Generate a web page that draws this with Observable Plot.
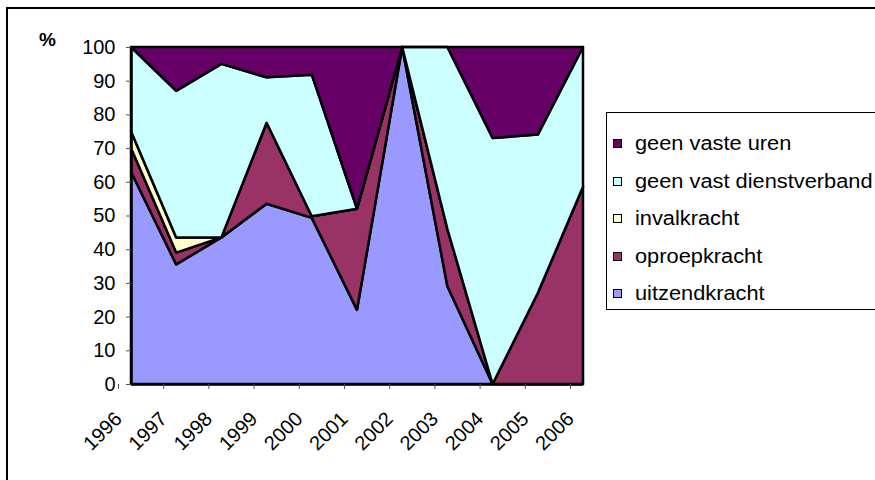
<!DOCTYPE html>
<html><head><meta charset="utf-8">
<script src="https://cdn.jsdelivr.net/npm/d3@7"></script>
<script src="https://cdn.jsdelivr.net/npm/@observablehq/plot@0.6"></script>
<style>
body{margin:0;background:#fff;}
#wrap{position:relative;width:875px;height:480px;overflow:hidden;font-family:Arial,"Liberation Sans",sans-serif;background:#fff;}
#frame{position:absolute;left:6px;top:7px;width:900px;height:520px;border:2px solid #000;box-sizing:border-box;}
#chart{position:absolute;left:0;top:0;}
#pct{position:absolute;left:39px;top:30px;font-weight:bold;font-size:19px;line-height:20px;}
#legend{position:absolute;left:606px;top:112px;width:300px;height:198px;border:1px solid #000;box-sizing:border-box;background:#fff;}
.item{position:absolute;left:6px;height:24px;display:flex;align-items:center;white-space:nowrap;}
.sw{width:7px;height:7px;border:1px solid #000;margin-right:13px;flex:none;}
.lab{font-size:20px;display:inline-block;transform:scaleX(1.09);transform-origin:left center;}
</style></head>
<body>
<div id="wrap">
  <div id="frame"></div>
  <div id="chart"></div>
  <div id="pct">%</div>
  <div id="legend"></div>
</div>
<script>
const years = [1996, 1997, 1998, 1999, 2000, 2001, 2002, 2003, 2004, 2005, 2006];
const uitzendkracht = [63, 35.5, 43.5, 53.5, 49.3, 22, 100, 29, 0, 0, 0];
const oproepkracht = [7, 3.5, 0, 24, 0.5, 30, 0, 17, 0, 27, 58.5];
const invalkracht = [5, 4.5, 0, 0, 0, 0, 0, 0, 0, 0, 0];
const geenVastDienstverband = [25, 43.5, 51.5, 13.5, 42, 0, 0, 54, 73, 47, 41.5];
const geenVasteUren = [0, 13, 5, 9, 8.2, 48, 0, 0, 27, 26, 0];
const seriesNames = ["uitzendkracht", "oproepkracht", "invalkracht", "geen vast dienstverband", "geen vaste uren"];
const seriesColors = ["#9999FF", "#993366", "#FFFFCC", "#CCFFFF", "#660066"];
const yTicks = [0, 10, 20, 30, 40, 50, 60, 70, 80, 90, 100];

const seriesValues = [uitzendkracht, oproepkracht, invalkracht, geenVastDienstverband, geenVasteUren];
const table = [];
seriesNames.forEach((name, s) => years.forEach((yr, i) => table.push({year: yr, series: name, value: seriesValues[s][i]})));

const chart = Plot.plot({
  width: 600, height: 480,
  marginLeft: 131, marginRight: 17, marginTop: 47, marginBottom: 96,
  x: {type: "linear", domain: [1996, 2006]},
  y: {domain: [0, 100]},
  color: {domain: seriesNames, range: seriesColors},
  style: {background: "transparent", fontFamily: "Arial, 'Liberation Sans', sans-serif", fontSize: "20px", color: "#000"},
  marks: [
    Plot.areaY(table, {x: "year", y: "value", z: "series", fill: "series", order: seriesNames, stroke: "#000", strokeWidth: 2.5, strokeLinejoin: "round"}),
    Plot.ruleX([1996], {stroke: "#000", strokeWidth: 2.5}),
    Plot.ruleY([0], {stroke: "#000", strokeWidth: 2.5}),
    Plot.axisY({ticks: yTicks, tickSize: 5, tickPadding: 11, label: null, stroke: "#555", fill: "#000"}),
    Plot.axisX({ticks: years, tickFormat: d => String(d), tickRotate: -45, tickSize: 5, tickPadding: 26, dx: -13, label: null, stroke: "#555", fill: "#000"})
  ]
});
document.getElementById("chart").appendChild(chart);

const legend = document.getElementById("legend");
const legendOrder = seriesNames.slice().reverse();
const legendColors = seriesColors.slice().reverse();
legendOrder.forEach((name, i) => {
  const it = document.createElement("div");
  it.className = "item";
  it.style.top = (30.7 + i * 37.5 - 12) + "px";
  it.innerHTML = `<span class="sw" style="background:${legendColors[i]}"></span><span class="lab">${name}</span>`;
  legend.appendChild(it);
});
</script>
</body></html>
